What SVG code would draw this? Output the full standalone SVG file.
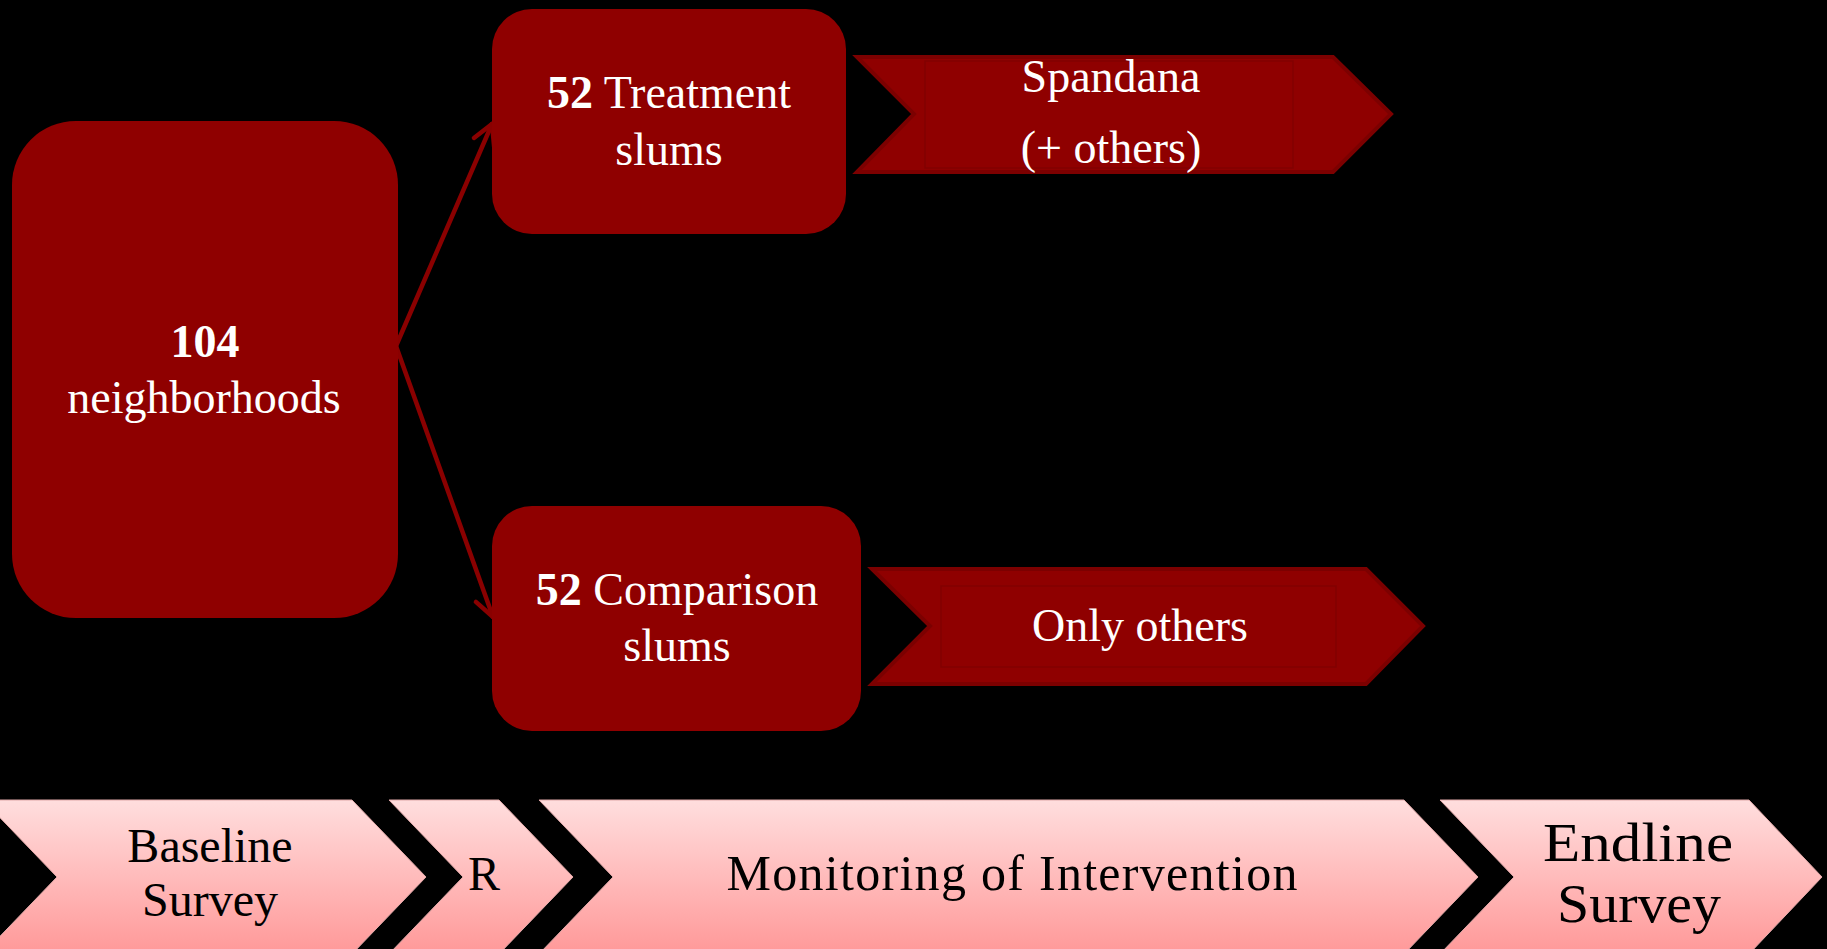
<svg xmlns="http://www.w3.org/2000/svg" width="1827" height="949" viewBox="0 0 1827 949">
  <defs>
    <linearGradient id="pink" x1="0" y1="0" x2="0" y2="1">
      <stop offset="0" stop-color="#FFDEDE"/>
      <stop offset="1" stop-color="#FF9898"/>
    </linearGradient>
    <marker id="open" markerUnits="userSpaceOnUse" markerWidth="40" markerHeight="40" viewBox="-30 -20 40 40" refX="0" refY="0" orient="auto">
      <path d="M -20 -11 L 0 0 L -20 11" fill="none" stroke="#8A0000" stroke-width="4.5" stroke-linecap="round" stroke-linejoin="round"/>
    </marker>
    <style>
      .box { fill: #8F0000; }
      .flag { fill: #8F0000; stroke: #7C0000; stroke-width: 4; stroke-linejoin: miter; }
      .inner { fill: none; stroke: #820000; stroke-width: 1.5; }
      .wt { font-family: "Liberation Serif", "Times New Roman", serif; fill: #FFFFFF; font-size: 46px; text-anchor: middle; }
      .bt { font-family: "Liberation Serif", "Times New Roman", serif; fill: #000000; font-size: 48px; text-anchor: middle; }
      .b { font-weight: bold; }
      .conn { fill: none; stroke: #8A0000; stroke-width: 4.5; stroke-linecap: round; }
      .step { fill: url(#pink); stroke: #E0A8A8; stroke-width: 1; }
    </style>
  </defs>
  <rect x="0" y="0" width="1827" height="949" fill="#000000"/>

  <g id="connectors">
    <path class="conn" d="M 396 346 L 492 124" marker-end="url(#open)"/>
    <path class="conn" d="M 396 346 L 493 617" marker-end="url(#open)"/>
  </g>

  <g id="node-neighborhoods">
    <rect class="box" x="12" y="121" width="386" height="497" rx="64" ry="64"/>
    <text class="wt b" x="205" y="357">104</text>
    <text class="wt" x="204" y="413">neighborhoods</text>
  </g>

  <g id="node-treatment">
    <rect class="box" x="492" y="9" width="354" height="225" rx="40" ry="40"/>
    <text class="wt" x="669" y="108"><tspan class="b">52</tspan> Treatment</text>
    <text class="wt" x="669" y="165">slums</text>
  </g>

  <g id="node-comparison">
    <rect class="box" x="492" y="506" width="369" height="225" rx="40" ry="40"/>
    <text class="wt" x="677" y="605"><tspan class="b">52</tspan> Comparison</text>
    <text class="wt" x="677" y="661">slums</text>
  </g>

  <g id="node-spandana">
    <path class="flag" d="M 857 57 L 1333 57 L 1391 114 L 1333 172 L 857 172 L 914 114 Z"/>
    <rect class="inner" x="925" y="61" width="368" height="107"/>
    <text class="wt" x="1111" y="92">Spandana</text>
    <text class="wt" x="1111" y="163">(+ others)</text>
  </g>

  <g id="node-only-others">
    <path class="flag" d="M 872 569 L 1366 569 L 1423 626 L 1366 684 L 872 684 L 930 626 Z"/>
    <rect class="inner" x="941" y="586" width="395" height="81"/>
    <text class="wt" x="1140" y="641">Only others</text>
  </g>

  <g id="node-baseline">
    <path class="step" d="M -17 800 L 352 800 L 426 877 L 352 954 L -17 954 L 57 877 Z"/>
    <text class="bt" x="210" y="862">Baseline</text>
    <text class="bt" x="210" y="916">Survey</text>
  </g>

  <g id="node-r">
    <path class="step" d="M 389 800 L 499 800 L 573 877 L 499 954 L 389 954 L 463 877 Z"/>
    <text class="bt" x="484" y="890">R</text>
  </g>

  <g id="node-monitoring">
    <path class="step" d="M 539 800 L 1404 800 L 1478 877 L 1404 954 L 539 954 L 613 877 Z"/>
    <text class="bt" x="1012" y="890" style="font-size:50px" textLength="571" lengthAdjust="spacing">Monitoring of  Intervention</text>
  </g>

  <g id="node-endline">
    <path class="step" d="M 1440 800 L 1749 800 L 1822 877 L 1749 954 L 1440 954 L 1514 877 Z"/>
    <text class="bt" x="1638" y="861" style="font-size:54px" textLength="190" lengthAdjust="spacingAndGlyphs">Endline</text>
    <text class="bt" x="1639" y="922" style="font-size:54px" textLength="164" lengthAdjust="spacingAndGlyphs">Survey</text>
  </g>
</svg>
